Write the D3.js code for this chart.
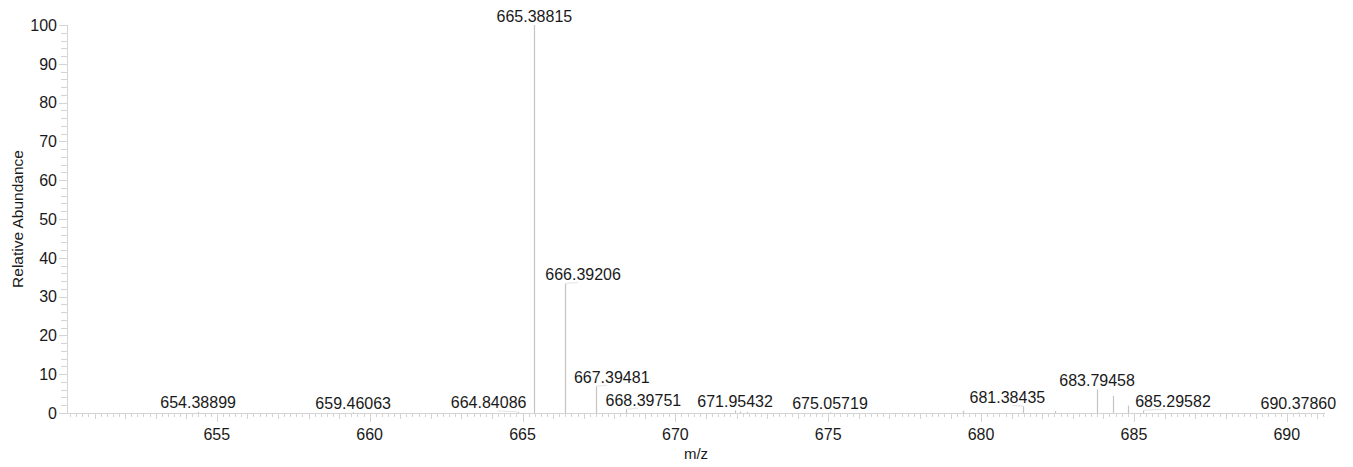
<!DOCTYPE html>
<html>
<head>
<meta charset="utf-8">
<script src="https://cdn.jsdelivr.net/npm/d3@7"></script>
<style>
  html, body { margin: 0; padding: 0; background: #fff; }
  svg { display: block; }
  text { font-family: "Liberation Sans", Arial, sans-serif; fill: #1a1a1a; }
</style>
</head>
<body>
<svg id="chart" width="1353" height="467"></svg>
<script>
// Labelled centroid peaks: m/z and relative abundance (%)
const labelledMz = [654.38899, 659.46063, 664.84086, 665.38815, 666.39206, 667.39481,
                    668.39751, 671.95432, 675.05719, 681.38435, 683.79458, 685.29582, 690.37860];
const labelledAbundance = [0.3, 0.2, 0.3, 100, 33.4, 6.9,
                           1.0, 0.7, 0.2, 1.75, 6.1, 0.7, 0.15];

// Smaller unlabelled peaks
const otherMz = [672.12, 672.35, 679.41, 682.42, 684.31, 684.81];
const otherAbundance = [0.4, 0.3, 0.6, 0.5, 4.4, 1.9];

// Axis ticks
const xMajorTicks = [655, 660, 665, 670, 675, 680, 685, 690];
const yMajorTicks = [0, 10, 20, 30, 40, 50, 60, 70, 80, 90, 100];

const xTitle = "m/z";
const yTitle = "Relative Abundance";

// ---- layout ----
const svg = d3.select("#chart");
const plotLeft = 67, plotRight = 1325, plotTop = 25, plotBottom = 413;
const axisColor = "#d4d4d4";
const peakColor = "#c4c4c4";

const x = d3.scaleLinear().domain([650.1, 691.25]).range([plotLeft, plotRight]);
const y = d3.scaleLinear().domain([0, 100]).range([plotBottom, plotTop]);

// horizontal shift of some peak labels so they clear neighbouring peaks
const labelShift = { "664.84086": -29, "666.39206": 18, "667.39481": 16,
                     "668.39751": 17, "681.38435": -16, "685.29582": 30 };

const fmt = d => d.toFixed(5);

// ---- x axis ----
const xAxisG = svg.append("g");
xAxisG.append("line")
  .attr("x1", plotLeft).attr("x2", plotRight).attr("y1", plotBottom + 0.5).attr("y2", plotBottom + 0.5)
  .attr("stroke", axisColor).attr("stroke-width", 1);

const xMinor = d3.range(Math.round(650.2 * 5), Math.round(691.2 * 5) + 1).map(v => v / 5);
xAxisG.selectAll("line.minor").data(xMinor).join("line")
  .attr("class", "minor")
  .attr("x1", d => Math.round(x(d)) + 0.5).attr("x2", d => Math.round(x(d)) + 0.5)
  .attr("y1", plotBottom)
  .attr("y2", d => {
    if (Math.abs(d - Math.round(d)) < 1e-6) {
      return Math.round(d) % 5 === 0 ? plotBottom + 9 : plotBottom + 6;
    }
    return plotBottom + 4;
  })
  .attr("stroke", axisColor).attr("stroke-width", 1);

xAxisG.selectAll("text").data(xMajorTicks).join("text")
  .attr("x", d => x(d)).attr("y", 440)
  .attr("text-anchor", "middle").attr("font-size", 16)
  .text(d => d);

svg.append("text")
  .attr("x", (plotLeft + plotRight) / 2).attr("y", 459)
  .attr("text-anchor", "middle").attr("font-size", 15)
  .text(xTitle);

// ---- y axis ----
const yAxisG = svg.append("g");
yAxisG.append("line")
  .attr("x1", plotLeft + 0.5).attr("x2", plotLeft + 0.5).attr("y1", plotTop).attr("y2", plotBottom)
  .attr("stroke", axisColor).attr("stroke-width", 1);

const yMinor = d3.range(0, 101, 2);
yAxisG.selectAll("line.minor").data(yMinor).join("line")
  .attr("class", "minor")
  .attr("x1", d => d % 10 === 0 ? plotLeft - 8 : plotLeft - 6).attr("x2", plotLeft)
  .attr("y1", d => Math.round(y(d)) + 0.5).attr("y2", d => Math.round(y(d)) + 0.5)
  .attr("stroke", axisColor).attr("stroke-width", 1);

yAxisG.selectAll("text").data(yMajorTicks).join("text")
  .attr("x", 57).attr("y", d => y(d))
  .attr("dy", "0.36em")
  .attr("text-anchor", "end").attr("font-size", 16)
  .text(d => d);

svg.append("text")
  .attr("transform", `translate(23, ${(plotTop + plotBottom) / 2}) rotate(-90)`)
  .attr("text-anchor", "middle").attr("font-size", 15.5)
  .text(yTitle);

// ---- peaks ----
const others = otherMz.map((m, i) => ({ mz: m, ab: otherAbundance[i] }));
const labelled = labelledMz.map((m, i) => ({ mz: m, ab: labelledAbundance[i] }));

const peaksG = svg.append("g");
peaksG.selectAll("line.other").data(others).join("line")
  .attr("class", "other")
  .attr("x1", d => Math.round(x(d.mz)) + 0.5).attr("x2", d => Math.round(x(d.mz)) + 0.5)
  .attr("y1", plotBottom).attr("y2", d => y(d.ab))
  .attr("stroke", peakColor).attr("stroke-width", 1.2);

peaksG.selectAll("line.lab").data(labelled).join("line")
  .attr("class", "lab")
  .attr("x1", d => Math.round(x(d.mz)) + 0.5).attr("x2", d => Math.round(x(d.mz)) + 0.5)
  .attr("y1", plotBottom).attr("y2", d => y(d.ab))
  .attr("stroke", peakColor).attr("stroke-width", 1.2);

// leader lines for shifted labels
peaksG.selectAll("line.leader").data(labelled.filter(d => labelShift[fmt(d.mz)]))
  .join("line")
  .attr("class", "leader")
  .attr("x1", d => x(d.mz)).attr("y1", d => y(d.ab))
  .attr("x2", d => x(d.mz) + labelShift[fmt(d.mz)] * 0.7).attr("y2", d => y(d.ab) - 1)
  .attr("stroke", "#e4e4e4").attr("stroke-width", 1);

peaksG.selectAll("text").data(labelled).join("text")
  .attr("x", d => x(d.mz) + (labelShift[fmt(d.mz)] || 0))
  .attr("y", d => y(d.ab) - 3.5)
  .attr("text-anchor", "middle").attr("font-size", 16)
  .text(d => fmt(d.mz));
</script>
</body>
</html>
